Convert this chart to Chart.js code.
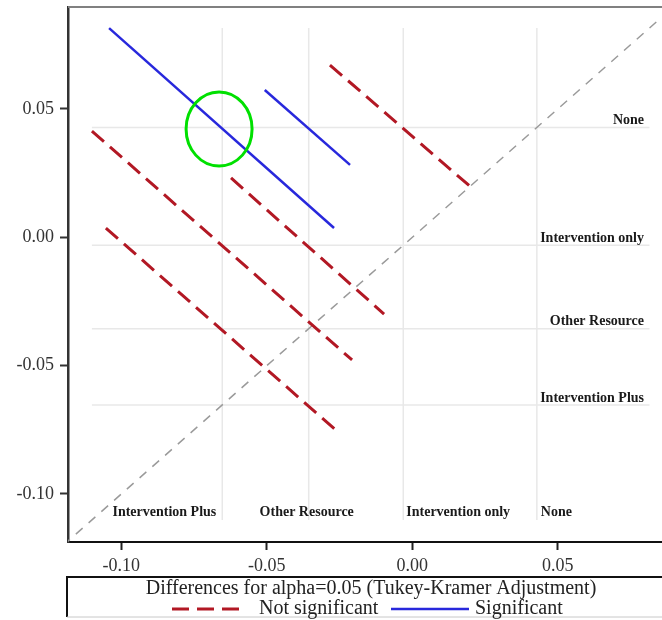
<!DOCTYPE html>
<html>
<head>
<meta charset="utf-8">
<script src="https://cdn.jsdelivr.net/npm/chart.js@4.4.1/dist/chart.umd.min.js"></script>
<style>
  html, body { margin: 0; padding: 0; background: #fff; overflow: hidden; }
  #wrap { width: 662px; height: 620px; overflow: hidden; }
</style>
</head>
<body>
<div id="wrap"><canvas id="diffogram" width="680" height="620"></canvas></div>
<script>
const groups = ["Intervention Plus", "Other Resource", "Intervention only", "None"];
const lsMeans = [-0.0653, -0.0356, -0.0031, 0.0428];

// comparison segments (start = upper left end, end = lower right end)
const segStartX = [-0.1042, -0.0507, -0.0283, -0.1101, -0.0623, -0.1053];
const segStartY = [0.0815, 0.0574, 0.0671, 0.0414, 0.0231, 0.0036];
const segEndX = [-0.0269, -0.0214, 0.0205, -0.0207, -0.0097, -0.0256];
const segEndY = [0.0036, 0.0282, 0.0192, -0.0478, -0.0299, -0.0758];
const significant = [true, true, false, false, false, false];

const xTicks = [-0.10, -0.05, 0.00, 0.05];
const yTicks = [-0.10, -0.05, 0.00, 0.05];
const refRange = [-0.1101, 0.0815];
const highlight = [-0.0664, 0.0422];
const legendTitle = "Differences for alpha=0.05 (Tukey-Kramer Adjustment)";
const legendLabels = ["Not significant", "Significant"];

const SERIF = "'Liberation Serif', 'Times New Roman', serif";
const RED = "rgb(178, 24, 36)";
const BLUE = "rgb(40, 40, 220)";

var datasets = [];
for (let i = 0; i < segStartX.length; i++) {
    datasets.push({
        data: [{ x: segStartX[i], y: segStartY[i] }, { x: segEndX[i], y: segEndY[i] }],
        borderColor: significant[i] ? BLUE : RED,
        borderWidth: significant[i] ? 2.5 : 3,
        borderDash: significant[i] ? [] : [16, 8],
        order: 1
    });
}
// diagonal y = x
datasets.push({
    data: [{ x: -0.12, y: -0.12 }, { x: 0.09, y: 0.09 }],
    borderColor: "#9a9a9a",
    borderWidth: 1.5,
    borderDash: [9, 8],
    order: 2
});
// reference lines at the LS-means
lsMeans.forEach(function (m) {
    datasets.push({
        data: [{ x: m, y: refRange[0] }, { x: m, y: refRange[1] }],
        borderColor: "#e8e8e8", borderWidth: 1.5, order: 3
    });
    datasets.push({
        data: [{ x: refRange[0], y: m }, { x: refRange[1], y: m }],
        borderColor: "#e8e8e8", borderWidth: 1.5, order: 3
    });
});
datasets.forEach(function (d) {
    d.showLine = true;
    d.pointRadius = 0;
    d.fill = false;
});

const bottomAlign = ["right", "center", "left", "left"];
const bottomShift = [-6, -2, 3, 4];

const decorations = {
    id: "decorations",
    afterDraw(chart) {
        const ctx = chart.ctx;
        const area = chart.chartArea;
        const xs = chart.scales.x, ys = chart.scales.y;
        ctx.save();
        // top frame
        ctx.strokeStyle = "#808080";
        ctx.lineWidth = 2;
        ctx.beginPath();
        ctx.moveTo(area.left, area.top);
        ctx.lineTo(area.right + 20, area.top);
        ctx.stroke();

        // group labels
        ctx.fillStyle = "#1a1a1a";
        ctx.font = "bold 14px " + SERIF;
        ctx.textBaseline = "middle";
        groups.forEach(function (g, i) {
            ctx.textAlign = bottomAlign[i];
            ctx.fillText(g, xs.getPixelForValue(lsMeans[i]) + bottomShift[i], area.bottom - 30);
            ctx.textAlign = "right";
            ctx.fillText(g, 644, ys.getPixelForValue(lsMeans[i]) - 7);
        });

        // highlight ellipse
        ctx.strokeStyle = "#00e000";
        ctx.lineWidth = 3;
        ctx.beginPath();
        ctx.ellipse(xs.getPixelForValue(highlight[0]), ys.getPixelForValue(highlight[1]), 33, 37, 0, 0, Math.PI * 2);
        ctx.stroke();

        // legend box
        const top = 577, bottom = 617, left = 67;
        ctx.strokeStyle = "#111";
        ctx.lineWidth = 2;
        ctx.beginPath();
        ctx.moveTo(left, bottom);
        ctx.lineTo(left, top);
        ctx.lineTo(chart.width, top);
        ctx.stroke();
        ctx.strokeStyle = "#c8c8c8";
        ctx.lineWidth = 1;
        ctx.beginPath();
        ctx.moveTo(left, bottom);
        ctx.lineTo(chart.width, bottom);
        ctx.stroke();

        ctx.fillStyle = "#222";
        ctx.font = "20px " + SERIF;
        ctx.textAlign = "center";
        ctx.fillText(legendTitle, 371, 589);

        ctx.textAlign = "left";
        ctx.lineWidth = 3;
        ctx.strokeStyle = RED;
        ctx.setLineDash([17, 8]);
        ctx.beginPath();
        ctx.moveTo(172, 609);
        ctx.lineTo(242, 609);
        ctx.stroke();
        ctx.fillText(legendLabels[0], 259, 609);
        ctx.setLineDash([]);
        ctx.lineWidth = 2.5;
        ctx.strokeStyle = BLUE;
        ctx.beginPath();
        ctx.moveTo(391, 609);
        ctx.lineTo(469, 609);
        ctx.stroke();
        ctx.fillText(legendLabels[1], 475, 609);
        ctx.restore();
    }
};

const tickFont = { family: SERIF, size: 18 };

new Chart(document.getElementById("diffogram"), {
    type: "scatter",
    data: { datasets: datasets },
    options: {
        responsive: false,
        animation: false,
        layout: { padding: { top: 7, right: 12, left: 0, bottom: 0 } },
        plugins: { legend: { display: false }, tooltip: { enabled: false } },
        scales: {
            x: {
                type: "linear",
                min: -0.11832,
                max: 0.08787,
                afterBuildTicks: function (s) { s.ticks = xTicks.map(v => ({ value: v })); },
                afterFit: function (s) {
                    s.height = 78;
                    s.paddingLeft = 0;
                    s.paddingRight = 0;
                },
                ticks: {
                    callback: v => v.toFixed(2),
                    font: tickFont, color: "#333", padding: 5,
                    maxRotation: 0, autoSkip: false
                },
                grid: { drawOnChartArea: false, drawTicks: true, tickLength: 8, tickWidth: 2, color: "#222" },
                border: { display: true, color: "#111", width: 2 }
            },
            y: {
                type: "linear",
                min: -0.11870,
                max: 0.08971,
                afterBuildTicks: function (s) { s.ticks = yTicks.map(v => ({ value: v })); },
                afterFit: function (s) {
                    s.width = 68;
                    s.paddingTop = 0;
                    s.paddingBottom = 0;
                },
                ticks: {
                    callback: v => v.toFixed(2),
                    font: tickFont, color: "#333", padding: 6, autoSkip: false
                },
                grid: { drawOnChartArea: false, drawTicks: true, tickLength: 8, tickWidth: 2, color: "#333" },
                border: { display: true, color: "#333", width: 2.5 }
            }
        }
    },
    plugins: [decorations]
});
</script>
</body>
</html>
